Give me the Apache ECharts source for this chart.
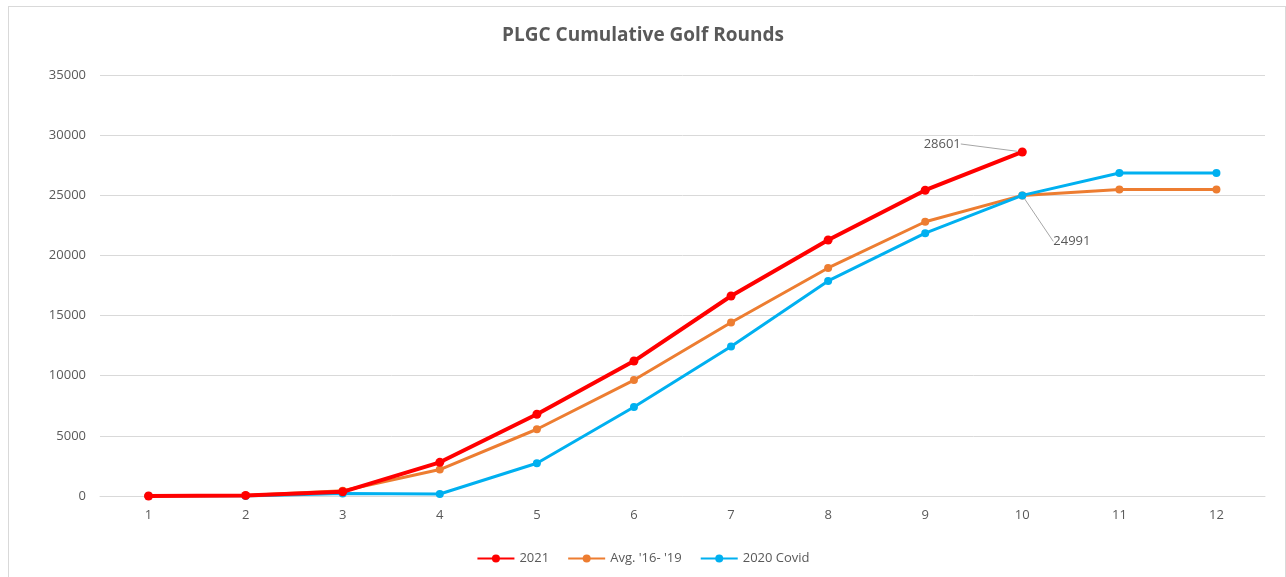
<!DOCTYPE html>
<html>
<head>
<meta charset="utf-8">
<style>
  html, body { margin: 0; padding: 0; background: #fff; overflow: hidden; }
  #frame { position: absolute; left: 8px; top: 6px; width: 1278px; height: 600px; border: 1px solid #d9d9d9; box-sizing: border-box; }
  #main { position: absolute; left: 0; top: 0; width: 1286px; height: 577px; }
</style>
<script src="https://cdn.jsdelivr.net/npm/echarts@6/dist/echarts.min.js"></script>
</head>
<body>
<div id="frame"></div>
<div id="main"></div>
<script>
const months = ['1', '2', '3', '4', '5', '6', '7', '8', '9', '10', '11', '12'];
const rounds2021 = [0, 50, 350, 2800, 6800, 11220, 16630, 21280, 25420, 28601];
const roundsAvg = [0, 50, 430, 2200, 5550, 9640, 14420, 18960, 22800, 24991, 25480, 25480];
const roundsCovid = [0, 0, 200, 170, 2720, 7400, 12430, 17880, 21850, 24991, 26855, 26855];

const font = 'Open Sans, Noto Sans, sans-serif';
const grey = '#595959';

const option = {
  animation: false,
  title: {
    text: 'PLGC Cumulative Golf Rounds',
    left: 'center',
    top: 21,
    textStyle: { fontFamily: font, fontSize: 19, fontWeight: 'bold', color: grey },
  },
  legend: {
    bottom: 7,
    left: 'center',
    itemWidth: 37,
    itemHeight: 10,
    itemGap: 18,
    textStyle: { fontFamily: font, fontSize: 13, color: grey },
    data: ['2021', "Avg. '16- '19", '2020 Covid'],
  },
  grid: { left: 100, right: 21, top: 75, bottom: 81 },
  xAxis: {
    type: 'category',
    data: months,
    axisLine: { lineStyle: { color: '#d9d9d9' } },
    axisTick: { show: false },
    axisLabel: { color: grey, fontFamily: font, fontSize: 13, margin: 13 },
  },
  yAxis: {
    type: 'value',
    min: 0,
    max: 35000,
    interval: 5000,
    axisLine: { show: false },
    axisTick: { show: false },
    axisLabel: { color: grey, fontFamily: font, fontSize: 13, margin: 14, formatter: (v) => String(v) },
    splitLine: { lineStyle: { color: '#d9d9d9' } },
  },
  series: [
    {
      name: "Avg. '16- '19",
      type: 'line',
      data: roundsAvg,
      color: '#ed7d31',
      symbol: 'circle',
      symbolSize: 8,
      lineStyle: { width: 3 },
      z: 2,
    },
    {
      name: '2020 Covid',
      type: 'line',
      data: roundsCovid.map((v, i) => i === 9 ? {
        value: v,
        label: {
          show: true, formatter: '{c}', position: 'right',
          color: grey, fontFamily: font, fontSize: 13,
        },
      } : v),
      color: '#00b0f0',
      symbol: 'circle',
      symbolSize: 8,
      lineStyle: { width: 3 },
      labelLine: { show: true, lineStyle: { color: '#a6a6a6', width: 1 } },
      labelLayout: { dx: 22, dy: 46 },
      z: 3,
    },
    {
      name: '2021',
      type: 'line',
      data: rounds2021.map((v, i) => i === 9 ? {
        value: v,
        label: {
          show: true, formatter: '{c}', position: 'left',
          color: grey, fontFamily: font, fontSize: 13,
        },
      } : v),
      color: '#ff0000',
      symbol: 'circle',
      symbolSize: 9,
      lineStyle: { width: 4 },
      labelLine: { show: true, lineStyle: { color: '#a6a6a6', width: 1 } },
      labelLayout: { dx: -52, dy: -8 },
      z: 4,
    },
  ],
};

const chart = echarts.init(document.getElementById('main'));
chart.setOption(option);
</script>
</body>
</html>
